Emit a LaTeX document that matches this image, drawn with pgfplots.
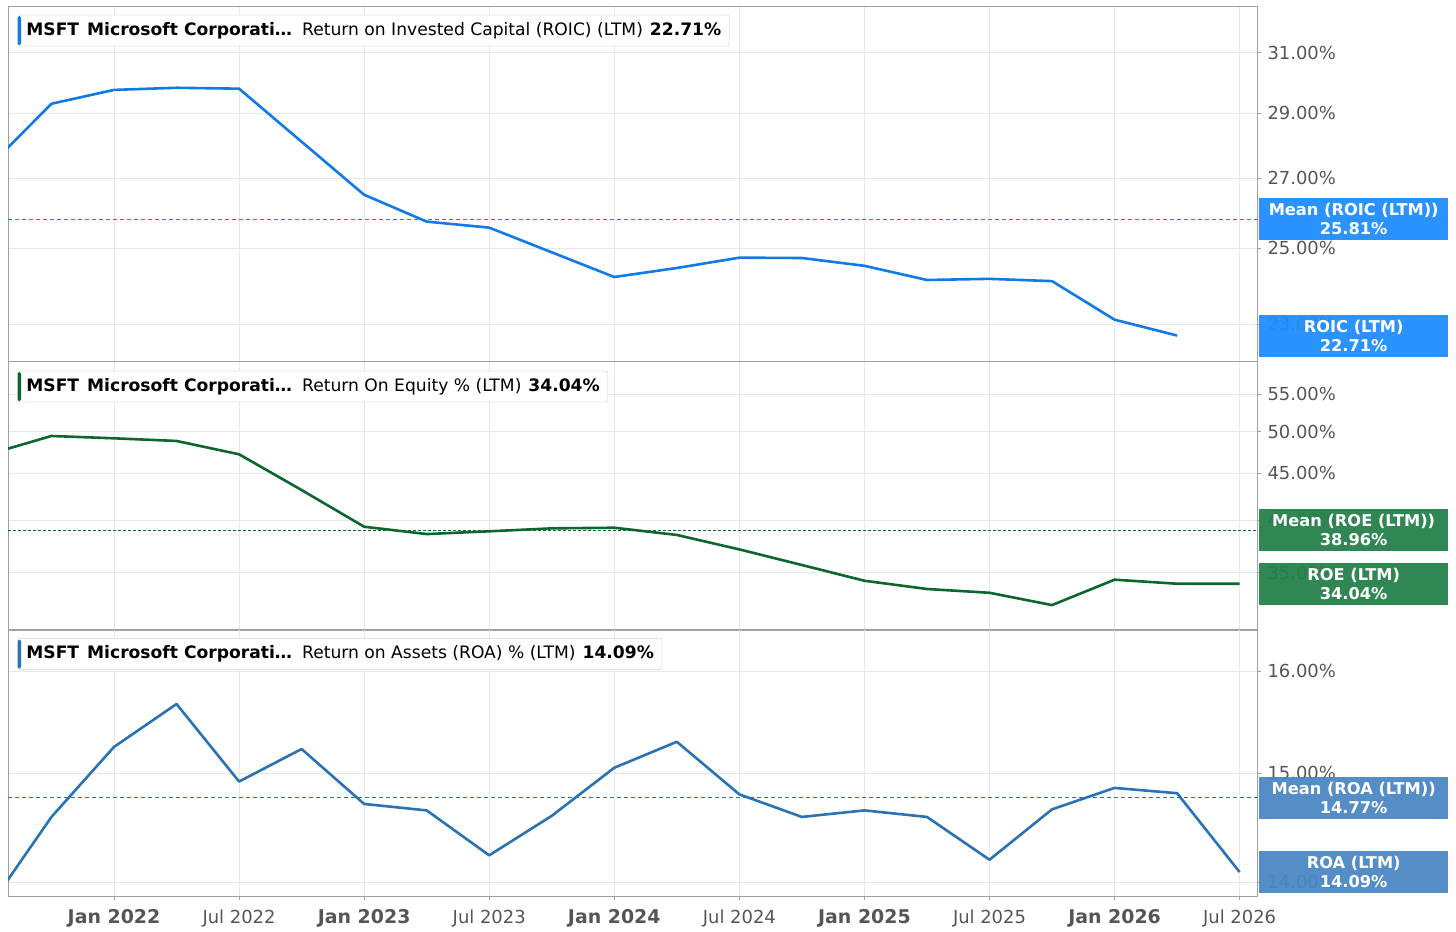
\documentclass[border=0pt]{standalone}
\usepackage{pgfplots}
\pgfplotsset{compat=1.18}
\usepackage{fontspec}
\setmainfont{DejaVu Sans}
\definecolor{roic}{HTML}{127AE6}
\definecolor{roicbox}{HTML}{1E8CFF}
\definecolor{roicmean}{HTML}{1F8AA8}
\definecolor{roe}{HTML}{0C662D}
\definecolor{roebox}{HTML}{248048}
\definecolor{roa}{HTML}{2B72B2}
\definecolor{roabox}{HTML}{4A87C4}
\definecolor{gridgray}{HTML}{E8E8E8}
\definecolor{framegray}{HTML}{A0A0A0}
\definecolor{labelgray}{HTML}{555555}
\definecolor{hdrborder}{HTML}{E2E2E2}

\pgfplotstableread{
x y
-6 27.34
-3 29.30
0 29.75
3 29.82
6 29.79
12 26.51
15 25.74
18 25.57
24 24.22
27 24.46
30 24.74
33 24.73
36 24.52
39 24.14
42 24.17
45 24.11
48 23.11
51 22.71
}\roicdata

\pgfplotstableread{
x y
-6 47.23
-3 49.46
0 49.17
3 48.84
6 47.22
9 43.14
12 39.32
15 38.60
18 38.87
21 39.16
24 39.22
27 38.51
30 37.13
33 35.69
36 34.30
39 33.59
42 33.27
45 32.25
48 34.39
51 34.04
54 34.04
}\roedata

\pgfplotstableread{
x y
-6 13.78
-3 14.59
0 15.25
3 15.67
6 14.92
9 15.23
12 14.71
15 14.65
18 14.24
21 14.60
24 15.05
27 15.30
30 14.80
33 14.59
36 14.65
39 14.59
42 14.20
45 14.66
48 14.86
51 14.81
54 14.09
}\roadata

\pgfplotsset{
  panel/.style={
    scale only axis, width=1250bp, xmin=-5.085, xmax=54.88,
    xtick={0,6,...,54},
    yminorticks=false, xminorticks=false,
    grid=major, major grid style={draw=gridgray, line width=0.8bp},
    axis line style={draw=framegray, line width=1bp},
    ytick pos=right, yticklabel pos=right,
    tick align=outside, major tick length=3bp,
    tick style={draw=framegray, line width=0.8bp},
    yticklabel style={font=\fontsize{18}{20}\selectfont, text=labelgray, xshift=3bp},
  },
  upper/.style={xticklabels={}, x tick style={draw=none}},
}

\begin{document}
\begin{tikzpicture}[x=1bp,y=1bp]
\useasboundingbox (0,0) rectangle (1456,-931);

% ---------- ROIC ----------
\begin{axis}[ymode=log, panel, upper, at={(8bp,-7bp)}, anchor=north west, height=355bp,
  ymin=22.06, ymax=32.59,
  ytick={23,25,27,29,31},
  yticklabels={23.00\%,25.00\%,27.00\%,29.00\%,31.00\%}]
\addplot[roicmean, line width=1.2bp, dash pattern=on 4bp off 3bp] coordinates {(-5.085,25.81) (54.88,25.81)};
\addplot[roic, line width=2.6bp, line join=round] table[x=x,y=y] {\roicdata};
\coordinate (m1) at (axis cs:54.88,25.81);
\coordinate (v1) at (axis cs:54.88,22.71);
\end{axis}

% ---------- ROE ----------
\begin{axis}[ymode=log, panel, upper, at={(8bp,-362bp)}, anchor=north west, height=268bp,
  ymin=30.28, ymax=59.64,
  ytick={35,40,45,50,55},
  yticklabels={35.00\%,40.00\%,45.00\%,50.00\%,55.00\%}]
\addplot[roe, line width=1.2bp, dash pattern=on 2.5bp off 2.5bp] coordinates {(-5.085,38.96) (54.88,38.96)};
\addplot[roe, line width=2.6bp, line join=round] table[x=x,y=y] {\roedata};
\coordinate (m2) at (axis cs:54.88,38.96);
\coordinate (v2) at (axis cs:54.88,34.04);
\end{axis}

% ---------- ROA ----------
\begin{axis}[ymode=log, panel, at={(8bp,-630bp)}, anchor=north west, height=267bp,
  ymin=13.87, ymax=16.42,
  ytick={14,15,16},
  yticklabels={14.00\%,15.00\%,16.00\%},
  xtick pos=bottom,
  xticklabels={
    {\bfseries\fontsize{19}{20}\selectfont Jan 2022},{\fontsize{18}{20}\selectfont Jul 2022},
    {\bfseries\fontsize{19}{20}\selectfont Jan 2023},{\fontsize{18}{20}\selectfont Jul 2023},
    {\bfseries\fontsize{19}{20}\selectfont Jan 2024},{\fontsize{18}{20}\selectfont Jul 2024},
    {\bfseries\fontsize{19}{20}\selectfont Jan 2025},{\fontsize{18}{20}\selectfont Jul 2025},
    {\bfseries\fontsize{19}{20}\selectfont Jan 2026},{\fontsize{18}{20}\selectfont Jul 2026}},
  xticklabel style={text=labelgray, anchor=base, yshift=-24bp}]
\addplot[roa, line width=1.2bp, dash pattern=on 4bp off 3bp] coordinates {(-5.085,14.77) (54.88,14.77)};
\addplot[roa, line width=2.6bp, line join=round] table[x=x,y=y] {\roadata};
\coordinate (m3) at (axis cs:54.88,14.77);
\coordinate (v3) at (axis cs:54.88,14.09);
\end{axis}

% ---------- value boxes ----------
\tikzset{vbox/.style={anchor=west, minimum width=189bp, minimum height=42bp, inner sep=0pt,
  align=center, text=white, font=\bfseries\fontsize{16.3}{19}\selectfont, fill opacity=0.94, text opacity=1}}
\node[vbox, fill=roicbox] at ([xshift=1bp]m1) {Mean (ROIC (LTM))\\25.81\%};
\node[vbox, fill=roicbox] at ([xshift=1bp]v1) {ROIC (LTM)\\22.71\%};
\node[vbox, fill=roebox] at ([xshift=1bp]m2) {Mean (ROE (LTM))\\38.96\%};
\node[vbox, fill=roebox] at ([xshift=1bp]v2) {ROE (LTM)\\34.04\%};
\node[vbox, fill=roabox] at ([xshift=1bp]m3) {Mean (ROA (LTM))\\14.77\%};
\node[vbox, fill=roabox] at ([xshift=1bp]v3) {ROA (LTM)\\14.09\%};

% ---------- header boxes ----------
\tikzset{hdr/.style={anchor=west, draw=hdrborder, line width=0.8bp, fill=white, rounded corners=2bp,
  minimum height=31bp, inner xsep=8bp, inner ysep=0pt, font=\fontsize{17.2}{19}\selectfont, text=black}}
\node[hdr] at (18,-30.5) {\textbf{MSFT}\hspace{8bp}\textbf{Microsoft Corporati…}\hspace{10bp}Return on Invested Capital (ROIC) (LTM)\hspace{7bp}\textbf{22.71\%}};
\fill[roic, rounded corners=1.5bp] (17.5,-16) rectangle (21,-45);
\node[hdr] at (18,-386.5) {\textbf{MSFT}\hspace{8bp}\textbf{Microsoft Corporati…}\hspace{10bp}Return On Equity \% (LTM)\hspace{7bp}\textbf{34.04\%}};
\fill[roe, rounded corners=1.5bp] (17.5,-372) rectangle (21,-401);
\node[hdr] at (18,-654) {\textbf{MSFT}\hspace{8bp}\textbf{Microsoft Corporati…}\hspace{10bp}Return on Assets (ROA) \% (LTM)\hspace{7bp}\textbf{14.09\%}};
\fill[roa, rounded corners=1.5bp] (17.5,-639.5) rectangle (21,-668.5);
\end{tikzpicture}
\end{document}
